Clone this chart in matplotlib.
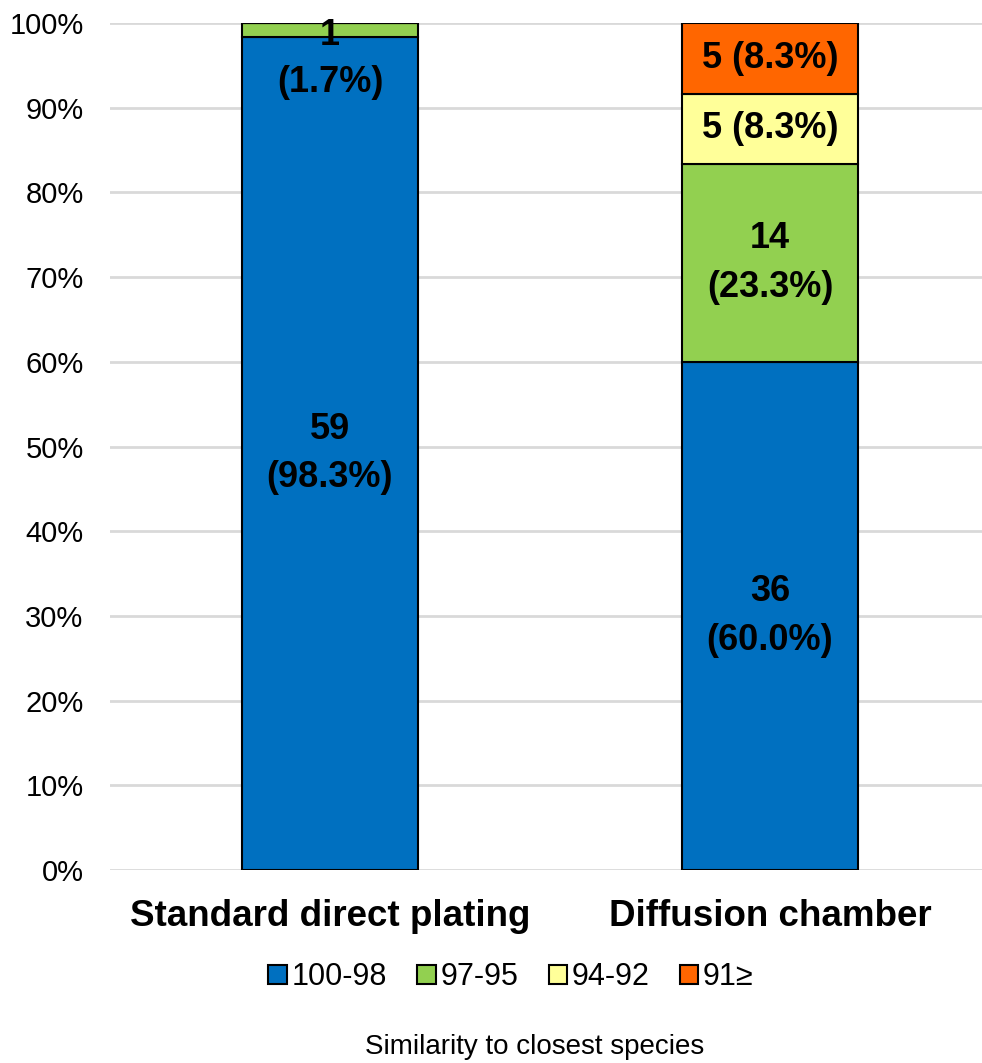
import matplotlib.pyplot as plt
import numpy as np

# Data
categories = ['Standard direct plating', 'Diffusion chamber']
series_names = ['100-98', '97-95', '94-92', '91≥']
counts_100_98 = [59, 36]
counts_97_95 = [1, 14]
counts_94_92 = [0, 5]
counts_91 = [0, 5]
colors = ['#0070C0', '#92D050', '#FFFF99', '#FF6600']

plt.rcParams['font.family'] = ['Liberation Sans', 'DejaVu Sans']

fig = plt.figure(figsize=(9.82, 10.63), dpi=100)
ax = fig.add_axes([110 / 982, 193 / 1063, 880 / 982, 847 / 1063])

series = [counts_100_98, counts_97_95, counts_94_92, counts_91]
totals = np.sum(series, axis=0)
x = np.arange(len(categories))
bottom = np.zeros(len(categories))

for name, vals, col in zip(series_names, series, colors):
    vals = np.array(vals, dtype=float)
    pct = vals / totals * 100
    ax.bar(x, pct, 0.4, bottom=bottom, color=col, edgecolor='black',
           linewidth=1.5, label=name, zorder=3)
    for i in range(len(x)):
        if vals[i] == 0:
            continue
        if pct[i] < 5:
            # label too big for the segment -> keep inside plot top
            txt = f'{int(vals[i])}\n({pct[i]:.1f}%)'
            ax.text(x[i], 100.6, txt, ha='center', va='top', fontsize=26,
                    fontweight='bold', linespacing=1.45, zorder=4)
        else:
            if pct[i] < 10:
                txt = f'{int(vals[i])} ({pct[i]:.1f}%)'
            else:
                txt = f'{int(vals[i])}\n({pct[i]:.1f}%)'
            ax.text(x[i], bottom[i] + pct[i] / 2, txt, ha='center', va='center',
                    fontsize=26, fontweight='bold', linespacing=1.5, zorder=4)
    bottom += pct

ax.set_xlim(-0.5, 1.5)
ax.set_ylim(0, 100)
ax.set_yticks(np.arange(0, 101, 10))
ax.set_yticklabels([f'{v}%' for v in range(0, 101, 10)], fontsize=21)
ax.set_xticks(x)
ax.set_xticklabels(categories, fontsize=26.5, fontweight='bold')
ax.tick_params(axis='both', length=0)
ax.tick_params(axis='y', pad=19)
ax.tick_params(axis='x', pad=21)
ax.grid(axis='y', color='#d9d9d9', linewidth=2, zorder=0)
for s in ax.spines.values():
    s.set_visible(False)

fig.legend(loc='center', bbox_to_anchor=(511 / 982, 1 - 977 / 1063), ncol=4,
           frameon=False, fontsize=22, handlelength=0.6, handleheight=0.6,
           handletextpad=0.15, columnspacing=1.0)
fig.text(535 / 982, 1 - 1047 / 1063, 'Similarity to closest species',
         ha='center', va='center', fontsize=20)

plt.savefig('out.png', dpi=100)
